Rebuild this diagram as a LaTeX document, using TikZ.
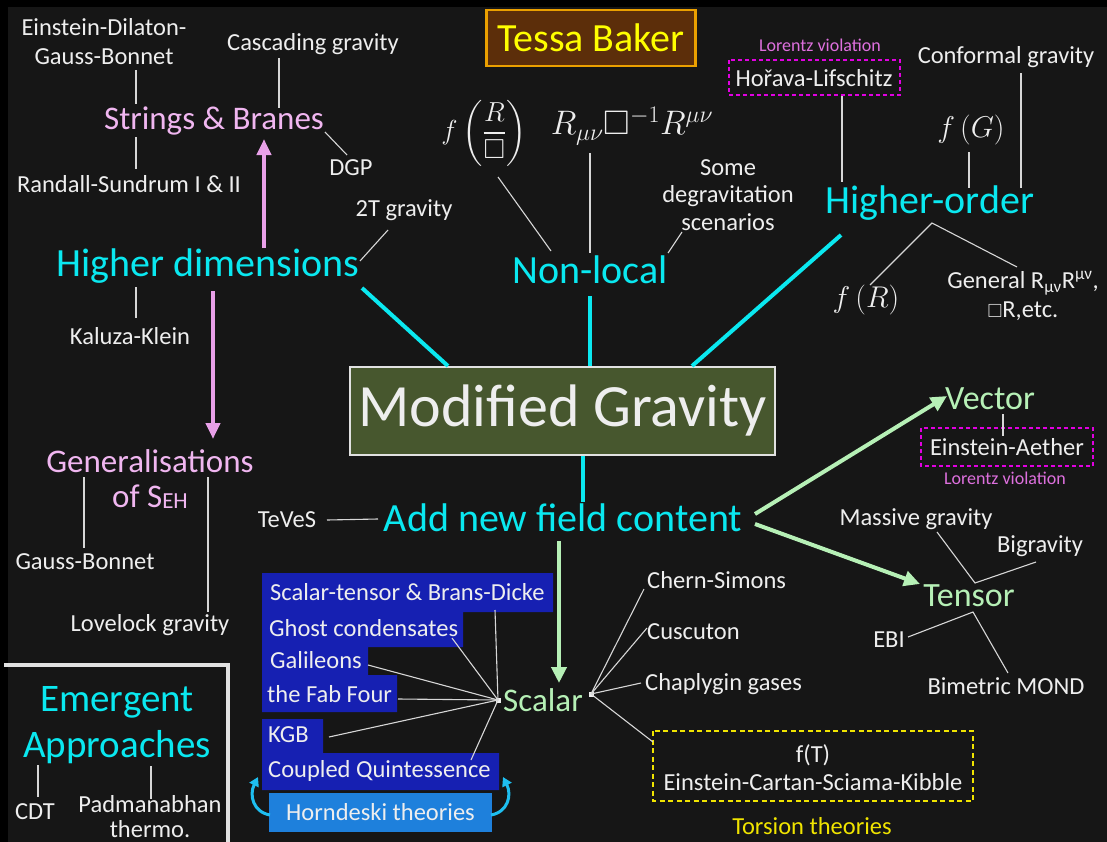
\RequirePackage{fix-cm}
\documentclass[tikz,border=0pt]{standalone}
\usepackage{amsmath,amssymb}
\usepackage{fontspec}
\setmainfont{Carlito}
\usetikzlibrary{arrows.meta}
\definecolor{bgc}{RGB}{22,22,22}
\definecolor{wtxt}{RGB}{238,238,238}
\definecolor{wline}{RGB}{215,215,215}
\definecolor{cyanc}{RGB}{10,232,240}
\definecolor{pinkc}{RGB}{240,182,240}
\definecolor{pinkarrow}{RGB}{232,160,232}
\definecolor{greenc}{RGB}{182,240,182}
\definecolor{lvc}{RGB}{222,112,222}
\definecolor{magc}{RGB}{225,0,225}
\definecolor{yelc}{RGB}{240,228,0}
\definecolor{tessafill}{RGB}{92,46,10}
\definecolor{tessaborder}{RGB}{235,160,0}
\definecolor{tessatext}{RGB}{255,255,0}
\definecolor{mgfill}{RGB}{71,87,46}
\definecolor{mgborder}{RGB}{225,225,225}
\definecolor{bluebox}{RGB}{22,32,178}
\definecolor{hornc}{RGB}{30,128,220}
\definecolor{curvec}{RGB}{30,190,240}
\definecolor{framec}{RGB}{225,225,225}
\newcommand{\mfs}[2]{\fontsize{#1bp}{#2bp}\selectfont}
\tikzset{
  wt/.style={text=wtxt, inner sep=0pt, font=\mfs{24.5}{29}, align=center},
  wtl/.style={wt, anchor=west, align=left},
  big/.style={text=cyanc, inner sep=0pt, font=\mfs{40}{46}, align=center},
  pinkt/.style={text=pinkc, inner sep=0pt, font=\mfs{33}{35}, align=center},
  greent/.style={text=greenc, inner sep=0pt, font=\mfs{34}{36}},
  mathw/.style={text=wtxt, inner sep=0pt, font=\mfs{30}{34}},
  lvt/.style={text=lvc, inner sep=0pt, font=\mfs{18}{20}},
  conn/.style={draw=wline, line width=1.1bp},
  thick cyan/.style={draw=cyanc, line width=4bp},
  garrow/.style={draw=greenc, line width=4bp, -{Triangle[length=16bp,width=15bp]}},
  parrow/.style={draw=pinkarrow, line width=4bp, -{Triangle[length=16bp,width=14bp]}},
  carrow/.style={draw=curvec, line width=3bp, -{Triangle[length=9bp,width=10bp]}},
  hub/.style={fill=wtxt, inner sep=0pt, minimum size=5bp},
  magbox/.style={draw=magc, line width=1.8bp, dash pattern=on 4bp off 3bp},
}
\begin{document}
\begin{tikzpicture}[x=1bp,y=-1bp]
\useasboundingbox (0,0) rectangle (1107,842);
\fill[black] (0,0) rectangle (1107,842);
\fill[bgc] (8,7) rectangle (1107,842);

% ---------- Top left: higher dimensions ----------
\node[wt] (edgb) at (104,42) {Einstein-Dilaton-\\Gauss-Bonnet};
\node[wt] (casc) at (313,44) {Cascading gravity};
\node[pinkt] (sb) at (214,121) {Strings \& Branes};
\node[wt] (rs) at (129,184) {Randall-Sundrum I \& II};
\node[wt] (dgp) at (351,168) {DGP};
\node[wt] (twoT) at (404,210) {2T gravity};
\node[big] (hd) at (208,266) {Higher dimensions};
\node[wt] (kk) at (130,336) {Kaluza-Klein};
\node[pinkt, font=\mfs{33}{35}] (gen) at (150,479) {Generalisations\\of S\raisebox{-0.12ex}{\mfs{23}{23}EH}};
\node[wt] (gb) at (85,562) {Gauss-Bonnet};
\node[wt] (lov) at (150,625) {Lovelock gravity};

\coordinate (p1) at (136,70);  \coordinate (p2) at (136,104);
\draw[conn] (p1) -- (p2);
\coordinate (p3) at (279,58);  \coordinate (p4) at (279,108);
\draw[conn] (p3) -- (p4);
\coordinate (p5) at (136,137); \coordinate (p6) at (136,169);
\draw[conn] (p5) -- (p6);
\coordinate (p7) at (325,132); \coordinate (p8) at (347,155);
\draw[conn] (p7) -- (p8);
\coordinate (p9) at (388,230); \coordinate (p10) at (360,261);
\draw[conn] (p9) -- (p10);
\coordinate (p11) at (136,287); \coordinate (p12) at (136,318);
\draw[conn] (p11) -- (p12);
\coordinate (p13) at (84,477); \coordinate (p14) at (84,548);
\draw[conn] (p13) -- (p14);
\coordinate (p15) at (208,477); \coordinate (p16) at (208,612);
\draw[conn] (p15) -- (p16);
\coordinate (q1) at (264,248); \coordinate (q2) at (264,139);
\draw[parrow] (q1) -- (q2);
\coordinate (q3) at (213,291); \coordinate (q4) at (213,439);
\draw[parrow] (q3) -- (q4);

% ---------- Tessa Baker ----------
\node[draw=tessaborder, fill=tessafill, line width=2.5bp, text=tessatext,
      font=\mfs{40}{42}, minimum width=209bp, minimum height=56bp, inner sep=0pt] (tessa) at (591,38) {Tessa Baker};

% ---------- Non-local ----------
\node[mathw, font=\mfs{27.5}{32}] (fRb) at (484,133) {$\displaystyle f\left(\frac{R}{\Box}\right)$};
\node[mathw, font=\mfs{34}{36}] (RbR) at (632,126) {$R_{\mu\nu}\Box^{-1}R^{\mu\nu}$};
\node[wt, font=\mfs{24.5}{27.5}] (some) at (728,195) {Some\\degravitation\\scenarios};
\node[big] (nl) at (590,270) {Non-local};
\coordinate (n1) at (498,177); \coordinate (n2) at (551,251);
\draw[conn] (n1) -- (n2);
\coordinate (n3) at (590,153); \coordinate (n4) at (590,253);
\draw[conn] (n3) -- (n4);
\coordinate (n5) at (682,232); \coordinate (n6) at (668,253);
\draw[conn] (n5) -- (n6);

% ---------- Higher-order ----------
\node[lvt] (lv1) at (820,45) {Lorentz violation};
\node[wt] (hl) at (814,78) {Hořava-Lifschitz};
\draw[magbox] (729,60) rectangle (900,95);
\node[wt] (conf) at (1006,57) {Conformal gravity};
\node[mathw] (fG) at (971,130) {$f\left(G\right)$};
\node[big] (ho) at (930,203) {Higher-order};
\node[mathw] (fR) at (866,300) {$f\left(R\right)$};
\node[wt] (genR) at (1023,296) {General R\textsubscript{μν}R\textsuperscript{μν},\\{\mfs{19}{19}$\square$}R,etc.};
\coordinate (h1) at (842,96); \coordinate (h2) at (842,182);
\draw[conn] (h1) -- (h2);
\coordinate (h3) at (1021,73); \coordinate (h4) at (1021,188);
\draw[conn] (h3) -- (h4);
\coordinate (h5) at (969,152); \coordinate (h6) at (969,188);
\draw[conn] (h5) -- (h6);
\coordinate (h7) at (870,285); \coordinate (h8) at (932,223); \coordinate (h9) at (1017,267);
\draw[conn] (h7) -- (h8) -- (h9);

% ---------- Modified Gravity ----------
\node[draw=mgborder, fill=mgfill, line width=2bp, text=wtxt, font=\mfs{60}{62},
      minimum width=425bp, minimum height=88bp, inner sep=0pt] (mg) at (562.5,410.5) {Modified Gravity};
\coordinate (m1) at (362,288); \coordinate (m2) at (448,366);
\draw[thick cyan] (m1) -- (m2);
\coordinate (m3) at (590,296);
\draw[thick cyan] (m3) -- (mg.north -| m3);
\coordinate (m5) at (841,235); \coordinate (m6) at (692,366);
\draw[thick cyan] (m5) -- (m6);
\coordinate (m7) at (583,502);
\draw[thick cyan] (mg.south -| m7) -- (m7);

% ---------- Add new field content ----------
\node[big] (anfc) at (563,518) {Add new field content};
\node[wt] (teves) at (287,520) {TeVeS};
\coordinate (t1) at (327,520); \coordinate (t2) at (378,519);
\draw[conn] (t1) -- (t2);

% ---------- Vector / Tensor ----------
\node[greent] (vector) at (990,399) {Vector};
\node[wt] (ea) at (1007,447) {Einstein-Aether};
\draw[magbox] (921,428) rectangle (1093,466);
\node[lvt] (lv2) at (1005,478) {Lorentz violation};
\node[wt] (massive) at (916,519) {Massive gravity};
\node[wt] (bigr) at (1040,546) {Bigravity};
\node[greent] (tensor) at (969,596) {Tensor};
\node[wt] (ebi) at (889,640) {EBI};
\node[wt] (bimond) at (1006,686) {Bimetric MOND};
\coordinate (v1) at (1003,414); \coordinate (v2) at (1003,436);
\draw[conn] (v1) -- (v2);
\coordinate (x1) at (937,532); \coordinate (x2) at (975,583); \coordinate (x3) at (1036,562);
\draw[conn] (x1) -- (x2) -- (x3);
\coordinate (x4) at (908,637); \coordinate (x5) at (973,612); \coordinate (x6) at (1008,673);
\draw[conn] (x4) -- (x5) -- (x6);
\coordinate (g1) at (755,514); \coordinate (g2) at (947,396);
\draw[garrow] (g1) -- (g2);
\coordinate (g3) at (755,524); \coordinate (g4) at (920,584);
\draw[garrow] (g3) -- (g4);
\coordinate (g5) at (559,541); \coordinate (g6) at (559,683);
\draw[garrow] (g5) -- (g6);

% ---------- Scalar ----------
\fill[bluebox] (262,573) -- (553,573) -- (553,612) -- (463,612) -- (463,647) -- (368,647)
  -- (368,675) -- (397,675) -- (397,712) -- (262,712) -- cycle;
\fill[bluebox] (262,719) -- (323,719) -- (323,753) -- (499,753) -- (499,790) -- (262,790) -- cycle;
\node[wtl] (st) at (270,592) {Scalar-tensor \& Brans-Dicke};
\node[wtl] (gc) at (269,628) {Ghost condensates};
\node[wtl] (gal) at (270,660) {Galileons};
\node[wtl] (fab) at (267,694) {the Fab Four};
\node[wtl] (kgb) at (268,735) {KGB};
\node[wtl] (cq) at (268,771) {Coupled Quintessence};
\node[fill=hornc, text=wtxt, font=\mfs{24.5}{26}, minimum width=223bp, minimum height=39bp, inner sep=0pt] (horn) at (380.5,812.5) {Horndeski theories};
\coordinate (c1) at (270,815); \coordinate (c1e) at (258,777);
\draw[carrow] (c1) .. controls (253,812) and (249,795) .. (c1e);
\coordinate (c2) at (491,815); \coordinate (c2e) at (503,777);
\draw[carrow] (c2) .. controls (508,812) and (512,795) .. (c2e);

\node[greent, font=\mfs{33}{35}] (scalar) at (543,700) {Scalar};
\node[hub] (hubL) at (498,700) {};
\node[hub] (hubR) at (591,694) {};
\coordinate (s1) at (495,610); \coordinate (s2) at (452,638); \coordinate (s3) at (368,665);
\coordinate (s4) at (398,699); \coordinate (s5) at (329,737); \coordinate (s6) at (471,760);
\foreach \s in {s1,s2,s3,s4,s5,s6} \draw[conn] (hubL.center) -- (\s);

\node[wtl] (cs) at (647,580) {Chern-Simons};
\node[wtl] (cusc) at (647,632) {Cuscuton};
\node[wtl] (chap) at (645,684) {Chaplygin gases};
\node[wt, font=\mfs{24.5}{28}] (tor) at (813,768) {f(T)\\Einstein-Cartan-Sciama-Kibble};
\draw[yelc, line width=1.8bp, dash pattern=on 5bp off 3.5bp] (653,731) rectangle (973,801);
\node[text=yelc, inner sep=0pt, font=\mfs{24.5}{26}] (tt) at (812,826) {Torsion theories};
\coordinate (r1) at (644,589); \coordinate (r2) at (647,628); \coordinate (r3) at (641,683); \coordinate (r4) at (653,742);
\foreach \r in {r1,r2,r3,r4} \draw[conn] (hubR.center) -- (\r);

% ---------- Emergent ----------
\draw[framec, line width=4bp] (4,665) -- (228,665) -- (228,846);
\node[big, font=\mfs{39}{46}] (emerg) at (117,725) {Emergent\\Approaches};
\node[wt] (cdt) at (35,812) {CDT};
\node[wt, font=\mfs{24.5}{25}] (pad) at (150,817) {Padmanabhan\\thermo.};
\coordinate (e1) at (38,765); \coordinate (e2) at (38,797);
\draw[conn] (e1) -- (e2);
\coordinate (e3) at (151,766); \coordinate (e4) at (151,799);
\draw[conn] (e3) -- (e4);
\end{tikzpicture}
\end{document}
